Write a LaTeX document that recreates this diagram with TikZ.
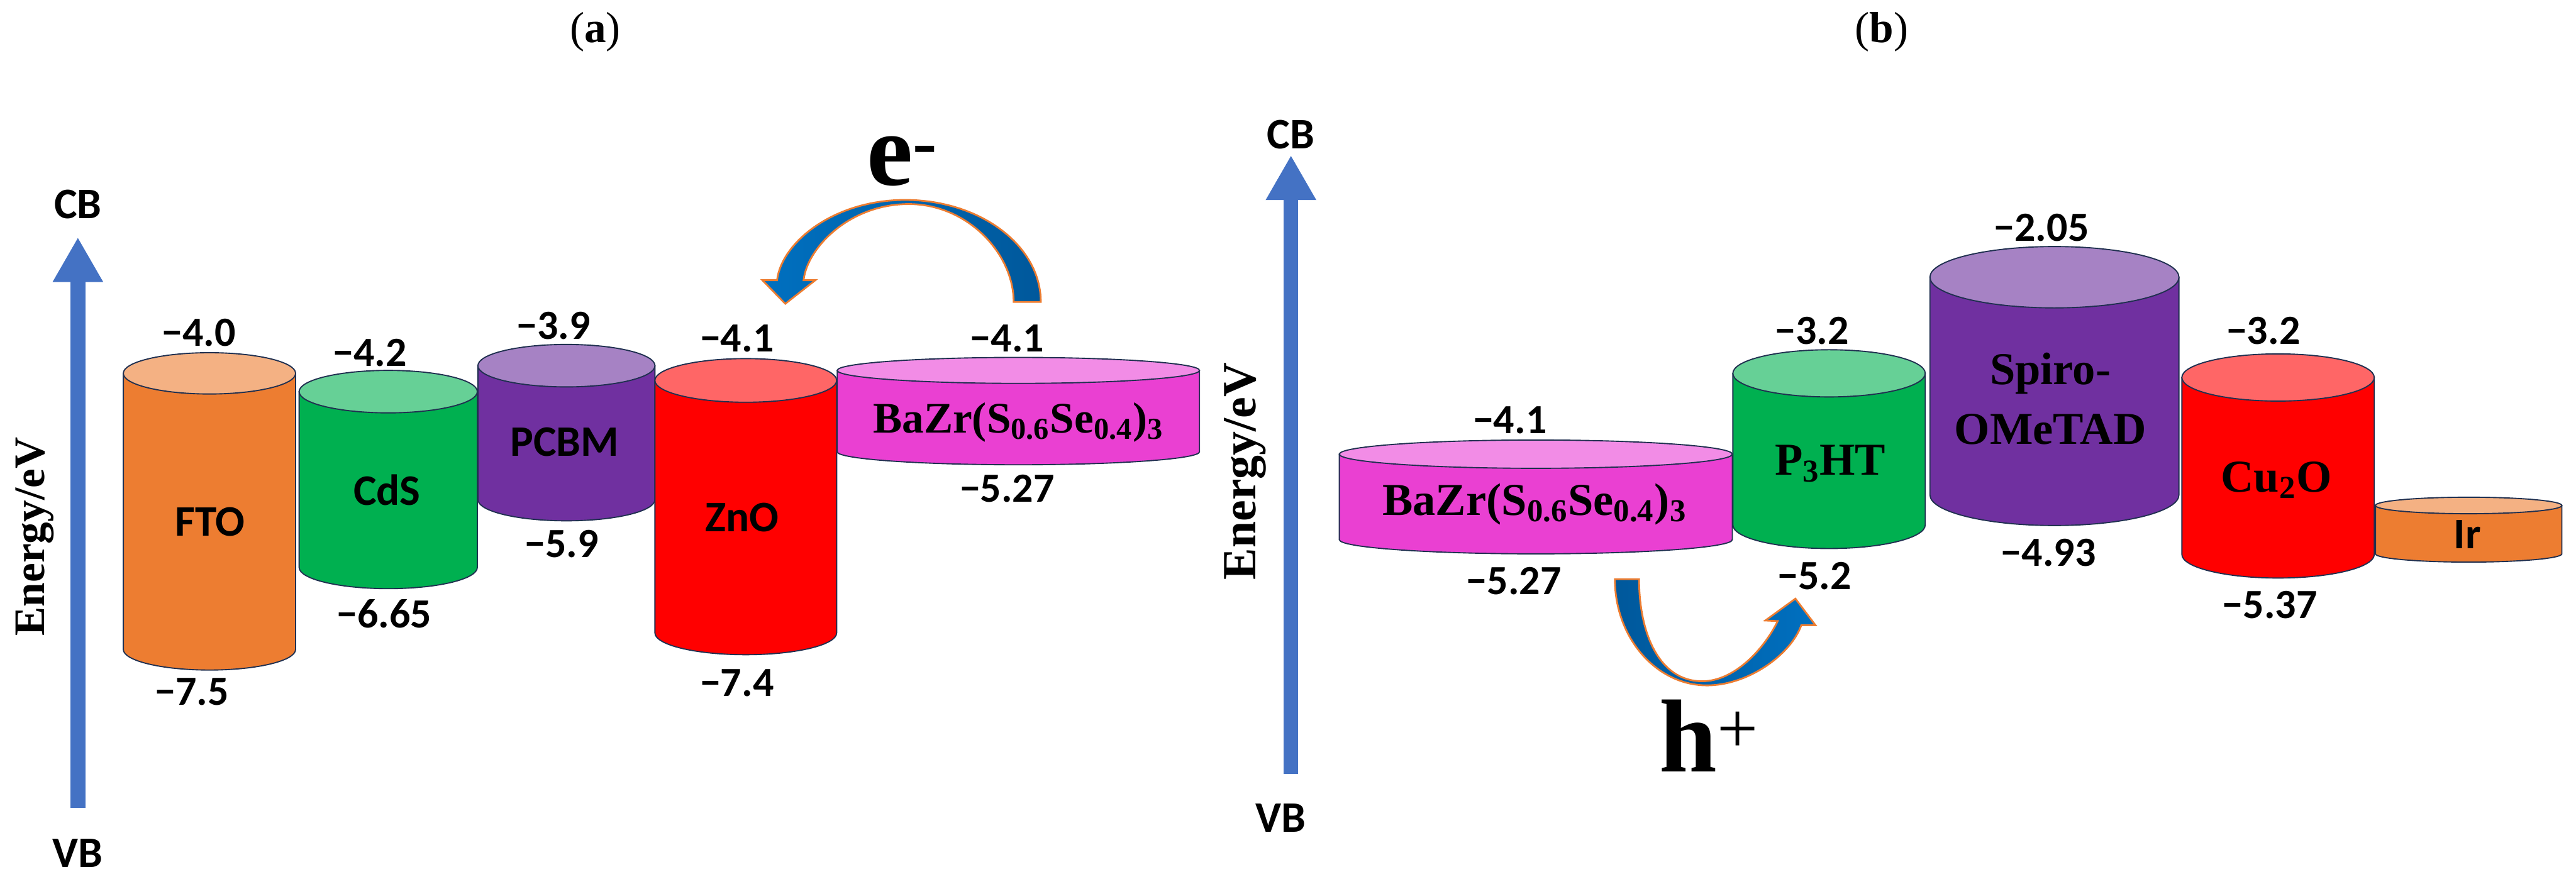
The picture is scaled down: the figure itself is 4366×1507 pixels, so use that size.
\documentclass[tikz,border=0pt]{standalone}
\usepackage{fontspec}
\setmainfont{Liberation Serif}
\newfontfamily\carlito{Carlito}
\usetikzlibrary{arrows.meta}
\definecolor{orangeBody}{RGB}{237,125,49}
\definecolor{orangeTop}{RGB}{244,177,131}
\definecolor{greenBody}{RGB}{0,176,80}
\definecolor{greenTop}{RGB}{102,208,150}
\definecolor{purpleBody}{RGB}{112,48,160}
\definecolor{purpleTop}{RGB}{166,130,196}
\definecolor{redBody}{RGB}{255,0,0}
\definecolor{redTop}{RGB}{255,102,102}
\definecolor{pinkBody}{RGB}{234,64,210}
\definecolor{pinkTop}{RGB}{242,140,230}
\definecolor{edgeCol}{RGB}{32,48,80}
\definecolor{axisCol}{RGB}{68,114,196}
\definecolor{arrLight}{RGB}{0,112,192}
\definecolor{arrDark}{RGB}{0,88,155}
\definecolor{arrEdge}{RGB}{237,125,49}
\newcommand\fnum{\carlito\bfseries\fontsize{20}{24}\selectfont}
\newcommand\fsans{\carlito\bfseries\fontsize{21}{25}\selectfont}
\newcommand\fser{\bfseries\fontsize{22}{26}\selectfont}
\newcommand\mycyl[8]{%
  \pgfmathsetmacro\cylcx{(#2+#3)/2}%
  \pgfmathsetmacro\cylrx{(#3-#2)/2}%
  \pgfmathsetmacro\cylyt{1507-#4}%
  \pgfmathsetmacro\cylyb{1507-#5}%
  \path[cylbody, fill=#7] (#2,\cylyt) -- (#2,\cylyb) arc[start angle=180, end angle=360, x radius=\cylrx, y radius=#6] -- (#3,\cylyt) -- cycle;
  \path[cylbody, fill=#8] (\cylcx,\cylyt) ellipse[x radius=\cylrx, y radius=#6];
  \coordinate (#1) at (\cylcx,\cylyt);
}
\tikzset{
  cylbody/.style={draw=edgeCol, line width=0.02cm},
  num/.style={font=\fnum, inner sep=0pt},
  sanslab/.style={font=\fsans, inner sep=0pt},
  serlab/.style={font=\fser, inner sep=0pt, align=center},
  cbvb/.style={font=\carlito\bfseries\fontsize{21}{25}\selectfont, inner sep=0pt},
  energy/.style={font=\bfseries\fontsize{#1}{26}\selectfont, inner sep=0pt, rotate=90},
  axisarrow/.style={draw=axisCol, line width=0.25cm, -{Triangle[length=0.76cm, width=0.8cm]}},
  bigsym/.style={font=\bfseries\fontsize{50}{60}\selectfont, inner sep=0pt, anchor=base},
  panel/.style={font=\fontsize{21}{25}\selectfont, inner sep=0pt},
  curvarrow/.style={draw=arrEdge, line width=0.03cm}
}
\begin{document}
\begin{tikzpicture}[x=0.01cm, y=0.01cm]
\useasboundingbox (0,0) rectangle (4366,1507);
\fill[white] (0,0) rectangle (4366,1507);

% panel titles
\node[panel] (ta) at (1009,1507-54) {(\textbf{a})};
\node[panel] (tb) at (3189,1507-54) {(\textbf{b})};

% ---------- panel (a) ----------
\node[cbvb] (CBa) at (132,1507-347) {CB};
\node[cbvb] (VBa) at (132,1507-1446) {VB};
\draw[axisarrow, shorten <=0.52cm, shorten >=0.3cm] (VBa.north) -- (CBa.south);
\node[energy=21] (Ea) at (59,1507-910) {Energy/eV};

\mycyl{FTO}{209}{501}{633}{1101}{35}{orangeBody}{orangeTop}
\mycyl{CdS}{507}{809}{664}{962}{36}{greenBody}{greenTop}
\mycyl{PCBM}{810}{1110}{620}{847}{36}{purpleBody}{purpleTop}
\mycyl{ZnO}{1110}{1418}{645}{1073}{37}{redBody}{redTop}
\mycyl{BZa}{1419}{2033}{628}{766}{22}{pinkBody}{pinkTop}

\node[sanslab] (lFTO) at (356,1507-885) {FTO};
\node[num] (nFTOt) at (337,1507-564) {−4.0};
\node[num] (nFTOb) at (325,1507-1173) {−7.5};
\node[sanslab] (lCdS) at (656,1507-831) {CdS};
\node[num] (nCdSt) at (627,1507-598) {−4.2};
\node[num] (nCdSb) at (651,1507-1041) {−6.65};
\node[sanslab] (lPCBM) at (957,1507-749) {PCBM};
\node[num] (nPCBMt) at (938,1507-552) {−3.9};
\node[num] (nPCBMb) at (952,1507-922) {−5.9};
\node[sanslab] (lZnO) at (1258,1507-877) {ZnO};
\node[num] (nZnOt) at (1249,1507-574) {−4.1};
\node[num] (nZnOb) at (1249,1507-1158) {−7.4};
\node[serlab, font=\bfseries\fontsize{21}{25}\selectfont] (lBZa) at (1726,1507-716) {BaZr(S\textsubscript{0.6}Se\textsubscript{0.4})\textsubscript{3}};
\node[num] (nBZat) at (1707,1507-574) {−4.1};
\node[num] (nBZab) at (1707,1507-828) {−5.27};

\shadedraw[curvarrow, left color=arrLight, right color=arrDark]
  (1764,1507-512) .. controls (1764,1507-416) and (1661,1507-339) .. (1534,1507-339)
  .. controls (1414,1507-339) and (1325,1507-410) .. (1317,1507-475)
  -- (1292,1507-475) -- (1331,1507-515) -- (1382,1507-475) -- (1362,1507-475)
  .. controls (1368,1507-420) and (1440,1507-346) .. (1540,1507-346)
  .. controls (1640,1507-346) and (1718,1507-430) .. (1718,1507-512) -- cycle;
\node[bigsym] (elec) at (1530,1507-314) {e\textsuperscript{-}};

% ---------- panel (b) ----------
\node[cbvb] (CBb) at (2188,1507-228) {CB};
\node[cbvb] (VBb) at (2171,1507-1387) {VB};
\draw[axisarrow, shorten <=0.5cm, shorten >=0.1cm] (CBb.south |- VBb.north) -- (CBb.south);
\node[energy=23] (Eb) at (2110,1507-799) {Energy/eV};

\mycyl{BZb}{2270}{2936}{770}{915}{24}{pinkBody}{pinkTop}
\mycyl{P3HT}{2937}{3263}{633}{890}{40}{greenBody}{greenTop}
\mycyl{Spiro}{3271}{3693}{470}{839}{52}{purpleBody}{purpleTop}
\mycyl{CuO}{3698}{4024}{640}{940}{40}{redBody}{redTop}
\mycyl{Ir}{4026}{4342}{857}{939}{14}{orangeBody}{orangeTop}

\node[serlab] (lBZb) at (2601,1507-855) {BaZr(S\textsubscript{0.6}Se\textsubscript{0.4})\textsubscript{3}};
\node[num] (nBZbt) at (2559,1507-712) {−4.1};
\node[num] (nBZbb) at (2566,1507-985) {−5.27};
\node[serlab] (lP3HT) at (3102,1507-786) {P\textsubscript{3}HT};
\node[num] (nP3HTt) at (3071,1507-561) {−3.2};
\node[num] (nP3HTb) at (3075,1507-976) {−5.2};
\node[serlab] (lSpiro1) at (3475,1507-633) {Spiro-};
\node[serlab] (lSpiro2) at (3475,1507-728) {OMeTAD};
\node[num] (nSpirot) at (3460,1507-386) {−2.05};
\node[num] (nSpirob) at (3472,1507-937) {−4.93};
\node[serlab] (lCuO) at (3858,1507-814) {Cu\textsubscript{2}O};
\node[num] (nCuOt) at (3836,1507-561) {−3.2};
\node[num] (nCuOb) at (3847,1507-1026) {−5.37};
\node[sanslab] (lIr) at (4182,1507-906) {Ir};

\shadedraw[curvarrow, left color=arrDark, right color=arrLight]
  (2737,1507-982) .. controls (2737,1507-1081) and (2807,1507-1162) .. (2893,1507-1162)
  .. controls (2963,1507-1162) and (3035,1507-1110) .. (3053,1507-1060)
  -- (3077,1507-1060) -- (3043,1507-1015) -- (2992,1507-1052) -- (3013,1507-1053)
  .. controls (2990,1507-1100) and (2940,1507-1155) .. (2885,1507-1155)
  .. controls (2810,1507-1155) and (2778,1507-1070) .. (2778,1507-982) -- cycle;
\node[bigsym] (hole) at (2897,1507-1308) {h\textsuperscript{\mdseries +}};
\end{tikzpicture}
\end{document}
